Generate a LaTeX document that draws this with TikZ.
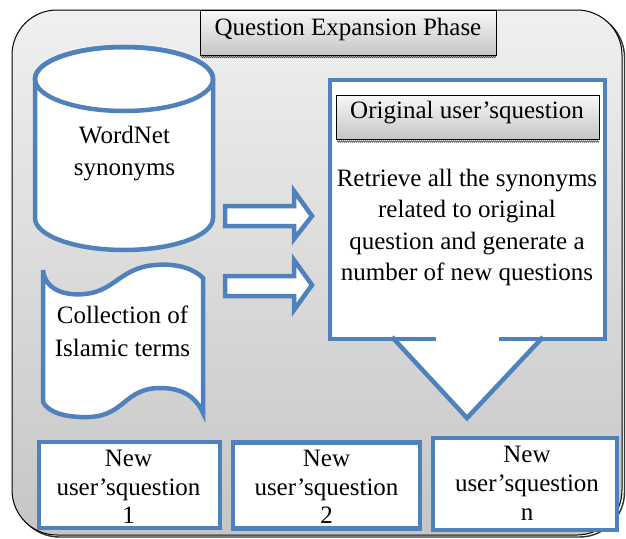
\documentclass[tikz,border=0pt]{standalone}
\usepackage{fontspec}
\setmainfont{Liberation Serif}
\usetikzlibrary{decorations.pathmorphing}
\definecolor{qblue}{HTML}{4F81BD}
\begin{document}
\begin{tikzpicture}[x=1pt,y=-1pt,line join=miter,
  txt/.style={font=\fontsize{25}{32}\selectfont, align=center, inner sep=0pt},
  bluel/.style={draw=qblue, line width=4.5pt},
  bluebox/.style={draw=qblue, line width=4.5pt, fill=white},
  titlebox/.style={draw=black, line width=1pt, top color=gray!6, bottom color=gray!45, inner sep=0pt},
  hatch/.style={draw=gray!60!black, line width=0.6pt, decorate, decoration={zigzag, segment length=2pt, amplitude=0.8pt}},
  outerbox/.style={draw=black, line width=1pt, rounded corners=45pt, top color=gray!12, bottom color=gray!45},
  newbox/.style={bluebox, minimum width=181pt, minimum height=86pt, inner sep=0pt}
]
\useasboundingbox (0,0) rectangle (626,538);

% outer frame with shadow
\draw[black!80, line width=1.4pt, rounded corners=45pt] (14.5,12.5) rectangle (624.5,537);
\path[outerbox] (12,10) rectangle (622,535);

% title
\node[titlebox, minimum width=296pt, minimum height=45pt, anchor=north] (title) at (348,10) {};
\draw[hatch] (201,57) -- (496,57);
\node[txt, anchor=base] (titletext) at (348,35) {Question Expansion Phase};

% cylinder
\path[bluebox] (35,79) -- (35,218) arc[start angle=180, end angle=360, x radius=89pt, y radius=32pt]
  -- (213,79) arc[start angle=0, end angle=180, x radius=89pt, y radius=32pt] -- cycle;
\draw[bluel] (124,79) ellipse [x radius=89pt, y radius=32pt];
\node[txt] (wordnet) at (124.5,154) {WordNet\\synonyms};

% document (punched tape) shape
\path[bluebox] (43,270) .. controls (45,290) and (65,296) .. (85,294)
  .. controls (115,291) and (120,268) .. (155,265)
  .. controls (180,263) and (195,270) .. (203,278)
  -- (203,413)
  .. controls (195,395) and (180,388) .. (160,388)
  .. controls (125,388) and (125,415) .. (90,417)
  .. controls (65,418) and (48,412) .. (43,402) -- cycle;
\node[txt, font=\fontsize{25}{33}\selectfont] (islamic) at (122.5,331) {Collection of\\Islamic terms};

% block arrows
\path[bluebox] (225,206) -- (294,206) -- (294,191) -- (312,216) -- (294,239) -- (294,226) -- (225,226) -- cycle;
\path[bluebox] (225,276) -- (294,276) -- (294,260) -- (312,285) -- (294,310) -- (294,296) -- (225,296) -- cycle;

% big process box with down pointer
\fill[white] (330,80) rectangle (605,339);
\fill[white] (395,339) -- (467,418) -- (540,339) -- cycle;
\draw[bluel] (436,339) -- (330,339) -- (330,80) -- (605,80) -- (605,339) -- (499,339);
\draw[bluel] (392,337) -- (467,418) -- (543,337);
\node[titlebox, minimum width=263pt, minimum height=44pt] (orig) at (467.5,117) {};
\draw[hatch] (337,141.5) -- (599,141.5);
\node[txt, anchor=base] (origtext) at (467,118) {Original user’squestion};
\node[txt, font=\fontsize{25}{31.3}\selectfont] (retrieve) at (467,227.5)
  {Retrieve all the synonyms\\related to original\\question and generate a\\number of new questions};

% new question boxes
\node[newbox] (n1) at (129.5,485) {};
\node[newbox, minimum width=187pt] (n2) at (326.5,485.5) {};
\node[newbox, minimum width=184pt, minimum height=92pt] (n3) at (525,484) {};
\node[txt, font=\fontsize{25}{28.5}\selectfont] (t1) at (128.5,487) {New\\user’squestion\\1};
\node[txt, font=\fontsize{25}{28.5}\selectfont] (t2) at (326.5,487) {New\\user’squestion\\2};
\node[txt, font=\fontsize{25}{29}\selectfont] (t3) at (527,483) {New\\user’squestion\\n};
\end{tikzpicture}
\end{document}
